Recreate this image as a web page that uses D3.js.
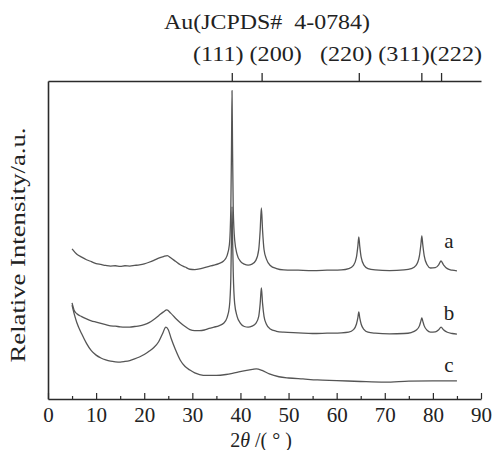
<!DOCTYPE html>
<html>
<head>
<meta charset="utf-8">
<script src="https://cdn.jsdelivr.net/npm/d3@7"></script>
<style>
  html, body { margin: 0; padding: 0; background: #fff; }
  text { font-family: "Liberation Serif", "Times New Roman", serif; fill: #222; }
</style>
</head>
<body>
<script>
// ---- data ----
const xTicks = [0, 10, 20, 30, 40, 50, 60, 70, 80, 90];
const xMinorTicks = [5, 15, 25, 35, 45, 55, 65, 75, 85];
const refPeaks = [38.2, 44.4, 64.6, 77.6, 81.7];
const refLabels = ["(111)", "(200)", "(220)", "(311)", "(222)"];
const refTitle = "Au(JCPDS#  4-0784)";
const seriesNames = ["a", "b", "c"];

const twoThetaA = [5.0,6,7,8,9,10,11,12,13,14,15,16,17,18,19,20,21,22,23,24,24.8,25.5,26.5,27.5,28.5,29.5,30.5,31.5,32.5,33.5,34.5,35.5,36.5,37.2,37.7,38.0,38.15,38.25,38.35,38.5,38.8,39.3,40.0,40.8,41.6,42.4,43.2,43.8,44.1,44.35,44.6,44.9,45.4,46.2,47.5,49,52,55,58,61,62.5,63.5,64.1,64.4,64.6,64.8,65.1,65.7,66.5,68,71,74,75.5,76.5,77.2,77.5,77.7,77.9,78.2,78.8,79.5,80.5,81.2,81.7,82.2,83,84,85];
const seriesA = [47.2,45.5,44.6,43.8,43.2,42.6,42.3,42.0,41.8,41.9,41.7,41.9,41.8,42.0,42.2,42.5,43.0,43.6,44.3,44.8,45.1,44.4,43.3,42.2,41.5,40.8,40.7,40.9,41.3,41.7,42.1,42.6,43.4,45.0,48.5,60,80,97,80,60,50,45.5,43.3,42.4,42.1,42.4,43.6,47,53,60.1,53,47,44,42,41,40.6,40.5,40.4,40.5,40.6,41,42,44.5,48,51,48,44.5,42,41,40.6,40.4,40.6,41,42,45,48.5,51.3,48.5,45,42.2,41.2,41.3,42.2,43.4,42.2,41,40.5,40.3];

const twoThetaB = [5.0,5.4,6,7,8,9,10,11,12,13,14,15,16,17,18,19,20,21,22,23,24,24.7,25.5,26.5,27.5,28.5,29.5,30.5,31.5,32.5,33.5,34.5,35.5,36.5,37.2,37.7,38.0,38.15,38.25,38.35,38.5,38.8,39.3,40.0,40.8,41.6,42.4,43.2,43.8,44.1,44.35,44.6,44.9,45.4,46.2,47.5,49,52,55,58,61,62.5,63.5,64.1,64.4,64.6,64.8,65.1,65.7,66.5,68,71,74,75.5,76.5,77.2,77.5,77.7,77.9,78.2,78.8,79.5,80.5,81.2,81.7,82.2,83,84,85];
const seriesB = [30.2,28.0,26.8,25.9,25.2,24.6,24.2,23.8,23.4,23.0,22.9,22.7,22.6,22.6,22.8,23.0,23.4,24.0,25.0,26.2,27.4,28.0,27.0,25.4,24.0,22.8,21.8,21.5,21.5,21.7,22.2,22.6,23.0,23.8,25.5,29,38,52,60.4,52,40,30,26,23.8,22.8,22.6,22.9,23.8,26,30,34.9,30,26,23.5,22,21.3,21.0,20.8,20.6,20.7,20.8,21,21.8,23.5,25.5,27.4,25.5,23.5,21.8,21,20.7,20.5,20.6,20.9,21.6,23,24.5,25.5,24.5,23,21.6,21,21.1,21.8,22.6,21.8,21,20.6,20.4];

const twoThetaC = [5.0,5.4,6,7,8,9,10,11,12,13,14,15,16,17,18,19,20,21,22,23,23.8,24.5,25.0,25.6,26.5,27.5,28.5,29.5,30.5,31.5,33,35,37,39,41,42.5,43.3,44.5,46,48,50,53,56,60,65,70,75,80,85];
const seriesC = [29.5,27,24,20.5,17.5,15.2,13.8,12.9,12.3,11.9,11.7,11.6,11.8,12.1,12.6,13.2,14.0,15.0,16.2,18.0,20.5,22.6,21.8,19.0,15.5,12.2,10.2,9.1,8.2,7.7,7.4,7.4,7.7,8.3,8.9,9.3,9.5,9.0,7.9,7.0,6.6,6.3,6.0,5.8,5.5,5.3,5.6,5.7,5.7];

// ---- layout ----
const W = 493, H = 450;
const mLeft = 48, mRight = 481, mTop = 81, mBottom = 399;

const svg = d3.select("body").append("svg")
  .attr("width", W).attr("height", H);

const x = d3.scaleLinear().domain([0, 90]).range([mLeft, mRight]);
const y = d3.scaleLinear().domain([0, 100]).range([mBottom, mTop]);

const axisColor = "#2b2b2b";

// bottom axis (major)
const gx = svg.append("g").attr("transform", `translate(0,${mBottom})`)
  .call(d3.axisBottom(x).tickValues(xTicks).tickSize(-6).tickSizeOuter(0).tickPadding(8).tickFormat(d3.format("d")));
gx.select(".domain").attr("stroke", axisColor).attr("stroke-width", 1.6);
gx.selectAll(".tick line").attr("stroke", axisColor).attr("stroke-width", 1.2);
gx.selectAll(".tick text").attr("font-size", 21).attr("fill", "#222")
  .attr("font-family", "Liberation Serif, serif");

// bottom minor ticks
const gxm = svg.append("g").attr("transform", `translate(0,${mBottom})`)
  .call(d3.axisBottom(x).tickValues(xMinorTicks).tickSize(-3).tickSizeOuter(0).tickFormat(""));
gxm.select(".domain").remove();
gxm.selectAll(".tick line").attr("stroke", axisColor).attr("stroke-width", 1.2);

// left axis
const gy = svg.append("g").attr("transform", `translate(${mLeft},0)`)
  .call(d3.axisLeft(y).tickValues([]).tickSizeOuter(0));
gy.select(".domain").attr("stroke", axisColor).attr("stroke-width", 1.6);

// top reference axis
const gt = svg.append("g").attr("transform", `translate(0,${mTop})`)
  .call(d3.axisTop(x).tickValues(refPeaks).tickSize(8).tickSizeOuter(0).tickFormat(""));
gt.select(".domain").attr("stroke", axisColor).attr("stroke-width", 1.6);
gt.selectAll(".tick line").attr("stroke", axisColor).attr("stroke-width", 1.3);

// reference labels row
svg.append("text")
  .attr("x", 193).attr("y", 61)
  .attr("font-size", 21)
  .attr("textLength", 289).attr("lengthAdjust", "spacingAndGlyphs")
  .style("white-space", "pre")
  .text(refLabels[0] + " " + refLabels[1] + "   " + refLabels[2] + " " + refLabels[3] + refLabels[4]);

svg.append("text")
  .attr("x", 164).attr("y", 29)
  .attr("font-size", 21)
  .attr("textLength", 206).attr("lengthAdjust", "spacingAndGlyphs")
  .style("white-space", "pre")
  .text(refTitle);

// curves
const line = d3.line().x(d => x(d[0])).y(d => y(d[1])).curve(d3.curveMonotoneX);
const allSeries = [
  {name: seriesNames[0], xs: twoThetaA, ys: seriesA},
  {name: seriesNames[1], xs: twoThetaB, ys: seriesB},
  {name: seriesNames[2], xs: twoThetaC, ys: seriesC}
];
allSeries.forEach(s => {
  const pts = s.xs.map((v, i) => [v, s.ys[i]]);
  svg.append("path").datum(pts)
    .attr("d", line)
    .attr("fill", "none")
    .attr("stroke", "#555")
    .attr("stroke-width", 1.3)
    .attr("stroke-linejoin", "round");
});

// series labels
const labelYs = [248, 320, 372];
seriesNames.forEach((n, i) => {
  svg.append("text").attr("x", 449).attr("y", labelYs[i])
    .attr("text-anchor", "middle").attr("font-size", 21).text(n);
});

// y-axis title
svg.append("text")
  .attr("transform", "translate(25,245) rotate(-90)")
  .attr("text-anchor", "middle")
  .attr("font-size", 21)
  .attr("textLength", 235).attr("lengthAdjust", "spacingAndGlyphs")
  .text("Relative Intensity/a.u.");

// x-axis title
const xt = svg.append("text")
  .attr("x", 261).attr("y", 446.5)
  .attr("text-anchor", "middle")
  .attr("font-size", 20)
  .style("white-space", "pre");
xt.append("tspan").text("2");
xt.append("tspan").attr("font-style", "italic").text("θ");
xt.append("tspan").text(" /( ° )");
</script>
</body>
</html>
